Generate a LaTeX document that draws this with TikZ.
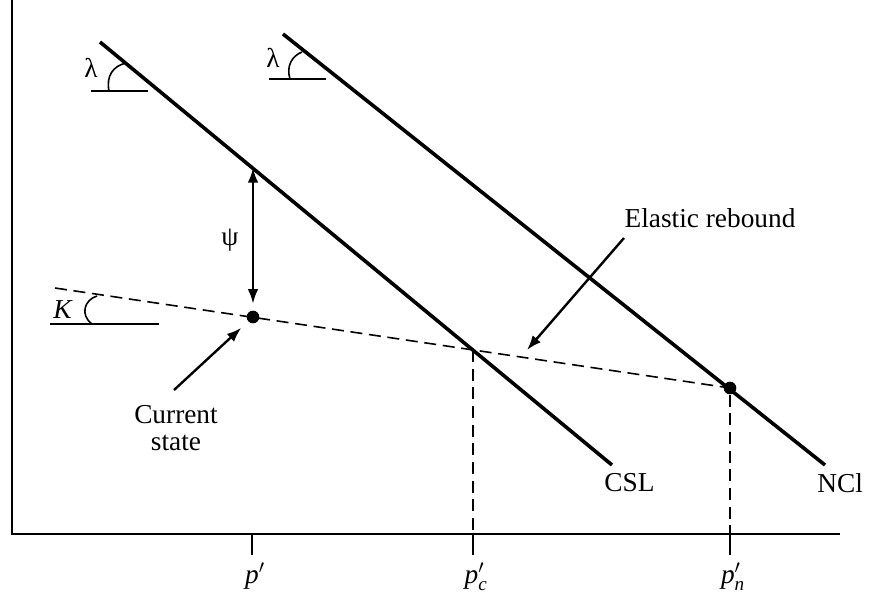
\documentclass[tikz,border=0pt]{standalone}
\usepackage{fontspec}
\setmainfont{Liberation Serif}
\usetikzlibrary{arrows.meta,positioning}
\begin{document}
\begin{tikzpicture}[x=0.75pt,y=-0.75pt,
    lbl/.style={font=\fontsize{20.5}{23}\selectfont,inner sep=1pt},
    heavy/.style={line width=2.7pt},
    axis/.style={line width=2.2pt},
    thin/.style={line width=1.2pt},
    dashln/.style={line width=1.2pt,dash pattern=on 9pt off 5pt},
    tip/.tip={Latex[length=11pt,width=8pt]},
    pointer/.style={line width=1.8pt,-tip},
    dot/.style={circle,fill=black,inner sep=0pt,minimum size=9.5pt}]
    \useasboundingbox (0,0) rectangle (869,594);

    % 定义坐标
    \coordinate (O) at (12,534);
    \coordinate (Ytop) at (12,0);
    \coordinate (Xend) at (840,534);
    \coordinate (A) at (100,42);   % CSL
    \coordinate (B) at (612,465);
    \coordinate (C) at (283,34);   % NCL
    \coordinate (D) at (825,465);
    \coordinate (E) at (55,288);   % 回弹线
    \coordinate (Pc) at (473,350);
    \coordinate (Ptop) at (253,168);
    \coordinate (Ctail) at (174,390);
    \coordinate (Etail) at (624,238);
    \coordinate (Ehead) at (527,350);
    \coordinate (Tc) at (473,534);
    \coordinate (Tn) at (730,534);

    % 坐标轴
    \draw[axis] (Ytop) -- (O) -- (Xend);

    % 绘制直线
    \draw[heavy] (A) -- (B) node[lbl,below right=4pt and -8pt]{CSL};
    \draw[heavy] (C) -- (D) node[lbl,below right=4pt and -8pt]{NCl};
    \draw[dashln] (E) -- (730,388);
    \node[dot] (cur) at (253,317) {};
    \node[dot] (nc) at (730,388) {};
    \draw[dashln] (Pc) -- (Tc);
    \draw[dashln] (nc) -- (Tn);

    % 角度
    \draw[thin] (91,91) -- (148,91);
    \draw[thin] (109,91) .. controls (106,76) and (113,66) .. (126,63);
    \node[lbl] (l1) at (91,68) {λ};
    \draw[thin] (269,79) -- (326,79);
    \draw[thin] (290,79) .. controls (286,66) and (292,56) .. (302,52);
    \node[lbl] (l2) at (273,58) {λ};
    \draw[thin] (50,324) -- (159,324);
    \draw[thin] (92,324) .. controls (80,315) and (84,300) .. (97,296);
    \node[lbl] (k) at (63,310) {\textit{K}};

    % 箭头
    \draw[pointer,tip-tip, shorten >=5pt] (Ptop) -- (cur);
    \node[lbl] (psi) at (230,240) {ψ};
    \draw[pointer, shorten >=7pt] (Ctail) -- (cur);
    \node[lbl,align=center] (cs) at (176,428) {Current\\[-3pt]state};
    \draw[pointer] (Etail) -- (Ehead);
    \node[lbl] (er) at (710,218) {Elastic rebound};

    % 刻度
    \foreach \x/\t in {252/{},473/{c},730/{n}} {
        \draw[thin] (\x,534) -- (\x,555);
        \node[lbl] at (\x+3,577) {\textit{p}$'_{\mathit{\t}}$};
    }
\end{tikzpicture}
\end{document}
